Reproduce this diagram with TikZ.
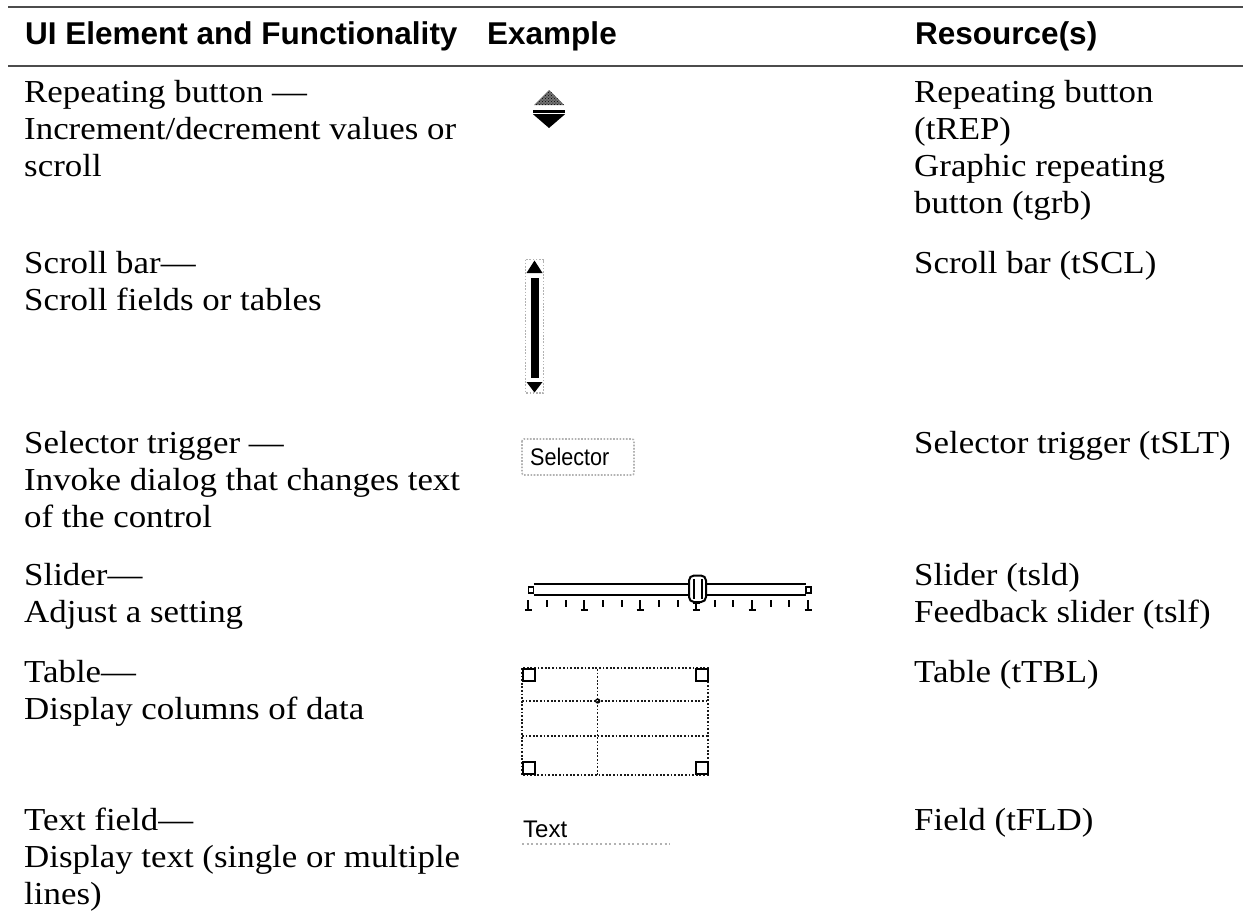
\documentclass[tikz,border=0pt]{standalone}
\usepackage{fontspec}
\setmainfont{Liberation Serif}[FakeStretch=1.09]
\newfontfamily\hdfont{Liberation Sans}
\newfontfamily\pixfont{Liberation Sans}[FakeStretch=0.9]
\usetikzlibrary{patterns}
\newcommand\cellrows[1]{\begin{tabular}[t]{@{}l@{}}#1\end{tabular}}
\tikzset{
  body/.style={anchor=base west, inner sep=0pt, font=\fontsize{32bp}{37bp}\selectfont},
  head/.style={anchor=base west, inner sep=0pt, font=\hdfont\bfseries\fontsize{31.5bp}{37bp}\selectfont},
  pix/.style={anchor=base west, inner sep=0pt, font=\pixfont\fontsize{24bp}{24bp}\selectfont},
  rulebar/.style={line width=2.2bp, black!70},
  greydots/.style={gray!60, line width=1.6bp, dash pattern=on 1.6bp off 1.6bp},
  blackdots/.style={black!90, line width=1.8bp, dash pattern=on 1.8bp off 1.8bp},
  thick2/.style={line width=2bp, black},
}
\begin{document}
\begin{tikzpicture}[x=1bp, y=-1bp]
\useasboundingbox (0,0) rectangle (1243,922);
\fill[white] (0,0) rectangle (1243,922);

% rules
\coordinate (r1l) at (8,7);   \coordinate (r1r) at (1243,7);
\coordinate (r2l) at (8,66);  \coordinate (r2r) at (1243,66);
\draw[rulebar] (r1l) -- (r1r);
\draw[rulebar, line width=1.7bp] (r2l) -- (r2r);

% headers
\node[head] (h1) at (25,44.5) {UI Element and Functionality};
\node[head] (h2) at (487,44.5) {Example};
\node[head] (h3) at (915,44.5) {Resource(s)};

% column 1
\node[body] (c1r1) at (24,102.5) {\cellrows{Repeating button —\\Increment/decrement values or\\scroll}};
\node[body] (c1r2) at (24,273) {\cellrows{Scroll bar—\\Scroll fields or tables}};
\node[body] (c1r3) at (24,453) {\cellrows{Selector trigger —\\Invoke dialog that changes text\\of the control}};
\node[body] (c1r4) at (24,585) {\cellrows{Slider—\\Adjust a setting}};
\node[body] (c1r5) at (24,682) {\cellrows{Table—\\Display columns of data}};
\node[body] (c1r6) at (24,830) {\cellrows{Text field—\\Display text (single or multiple\\lines)}};

% column 3
\node[body] (c3r1) at (914,102.5) {\cellrows{Repeating button\\(tREP)\\Graphic repeating\\button (tgrb)}};
\node[body] (c3r2) at (914,273) {Scroll bar (tSCL)};
\node[body] (c3r3) at (914,453) {Selector trigger (tSLT)};
\node[body] (c3r4) at (914,585) {\cellrows{Slider (tsld)\\Feedback slider (tslf)}};
\node[body] (c3r5) at (914,682) {Table (tTBL)};
\node[body] (c3r6) at (914,830) {Field (tFLD)};

% ---- example: repeating button
\fill[black!55] (534,105) -- (549,90) -- (564,105) -- cycle;
\fill[pattern=crosshatch dots, pattern color=black] (534,105) -- (549,90) -- (564,105) -- cycle;
\fill (533,110) rectangle (565,113);
\fill (533,114.2) -- (565,114.2) -- (549,128) -- cycle;

% ---- example: scroll bar
\draw[greydots, line width=1.4bp] (525.5,259.5) rectangle (543.5,393);
\fill (526.5,273) -- (534.5,260.5) -- (542.5,273) -- cycle;
\fill (530.7,277.7) rectangle (538.7,378.3);
\fill (526.5,382) -- (542.5,382) -- (534.5,392.5) -- cycle;

% ---- example: selector trigger
\draw[greydots, rounded corners=2bp] (522,439) rectangle (634,475);
\node[pix] (sel) at (530,465) {Selector};

% ---- example: slider
\draw[line width=1.5bp, fill=white] (528.5,587) rectangle (533.5,593);
\draw[thick2] (533.5,584) -- (689,584);
\draw[thick2] (533.5,595) -- (689,595);
\draw[thick2] (706,584) -- (806,584);
\draw[thick2] (706,595) -- (806,595);
\draw[line width=1.5bp, fill=white] (806,587) rectangle (811,593);
\foreach \i in {0,...,15}{
  \pgfmathsetmacro{\tx}{528.3+18.65*\i}
  \draw[thick2] (\tx,600) -- (\tx,607);
}
\foreach \i in {0,3,6,9,12,15}{
  \pgfmathsetmacro{\tx}{528.3+18.65*\i}
  \draw[thick2] (\tx,600) -- (\tx,610);
  \draw[thick2] (\tx-3.5,610) -- (\tx+3.5,610);
}
\draw[thick2] (692.7,603) -- (699.7,603);
\draw[thick2, fill=white, rounded corners=5bp] (689,575.5) rectangle (706,602);
\draw[thick2] (693.5,579) -- (693.5,598.5);
\draw[thick2] (701.5,579) -- (701.5,598.5);

% ---- example: table
\draw[blackdots] (521.7,668.3) rectangle (708.3,775);
\draw[blackdots, line width=1.5bp] (597.7,669) -- (597.7,775);
\draw[blackdots, line width=1.5bp] (522,701) -- (708,701);
\draw[blackdots, line width=1.5bp] (522,736) -- (708,736);
\draw[line width=1.2bp] (597.7,701) circle (2bp);
\draw[thick2, fill=white] (522.7,669.3) rectangle (534.7,681.3);
\draw[thick2, fill=white] (696,669.3) rectangle (708,681.3);
\draw[thick2, fill=white] (522.7,762) rectangle (534.7,774);
\draw[thick2, fill=white] (696,762) rectangle (708,774);

% ---- example: text field
\node[pix, font=\hdfont\fontsize{24bp}{24bp}\selectfont] (txt) at (523,837) {Text};
\draw[greydots, line width=2bp, dash pattern=on 2bp off 2.6bp] (522,843.5) -- (670,843.5);
\end{tikzpicture}
\end{document}
